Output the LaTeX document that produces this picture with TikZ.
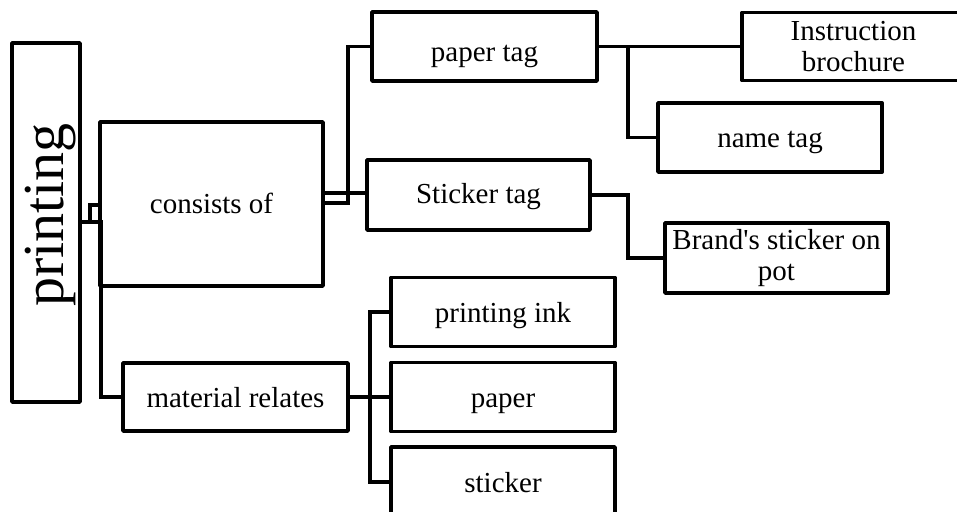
\documentclass[tikz,border=0pt]{standalone}
\usepackage{fontspec}
\setmainfont{Liberation Serif}
\begin{document}
\begin{tikzpicture}[x=1pt,y=-1pt,
  line width=3.8pt, line join=round,
  box/.style={draw, rectangle, inner sep=0pt, align=center,
    font=\fontsize{29}{31}\selectfont},
  oneline/.style={text height=25pt, text depth=5pt},
  link/.style={draw, line width=3.8pt, line join=miter}]
\clip (0,0) rectangle (957,511);
\fill[white] (0,0) rectangle (957,511);

% main column
\node[box, minimum width=68pt, minimum height=359pt] (printing) at (46,222.5) {};
\node[rotate=90, anchor=base, inner sep=0pt, font=\fontsize{58}{60}\selectfont] (printinglabel) at (63,215) {printing};

\node[box, text height=24pt, text depth=6pt, minimum width=223pt, minimum height=164pt] (consists) at (211.5,204) {consists of};
\node[box, oneline, minimum width=225pt, minimum height=68pt] (material) at (235.5,397) {material relates};

% kinds of printing
\node[box, text height=35.5pt, text depth=4.5pt, minimum width=225pt, minimum height=69pt] (papertag) at (484.5,46.5) {paper tag};
\node[box, text height=23pt, text depth=7pt, minimum width=223pt, minimum height=70pt] (stickertag) at (478.5,195) {Sticker tag};
\node[box, minimum width=223pt, minimum height=68pt] (instr) at (853.5,46.5) {Instruction\\brochure};
\node[box, text height=24.5pt, text depth=5.5pt, minimum width=224pt, minimum height=69pt] (nametag) at (770,137.5) {name tag};
\node[box, minimum width=223pt, minimum height=70pt] (brand) at (776.5,258) {Brand\textquotesingle s sticker on\\pot};

% materials
\node[box, oneline, minimum width=224pt, minimum height=69pt] (ink) at (503,312) {printing ink};
\node[box, oneline, minimum width=224pt, minimum height=69pt] (paperbox) at (503,397) {paper};
\node[box, oneline, minimum width=224pt, minimum height=70pt] (stickerbox) at (503,482) {sticker};

% junction points
\coordinate (pj) at (628,46.5);
\coordinate (sj) at (628,195);
\coordinate (mj) at (370,397);

% connectors
\draw[link] (printing.east |- 0,222) -- (90,222) |- (consists.west |- 0,205);
\draw[link] (printing.east |- 0,222) -- (101,222) |- (material.west);
\draw[link] (consists.east |- 0,203) -- (348,203) |- (papertag.west);
\draw[link] (consists.east |- 0,193) -- (stickertag.west |- 0,193);
\draw[link] (papertag.east) -- (instr.west);
\draw[link] (pj) |- (nametag.west);
\draw[link] (stickertag.east) -- (sj) |- (brand.west);
\draw[link] (material.east) -- (mj);
\draw[link] (mj) |- (ink.west);
\draw[link] (mj) |- (paperbox.west);
\draw[link] (mj) |- (stickerbox.west);
\end{tikzpicture}
\end{document}
